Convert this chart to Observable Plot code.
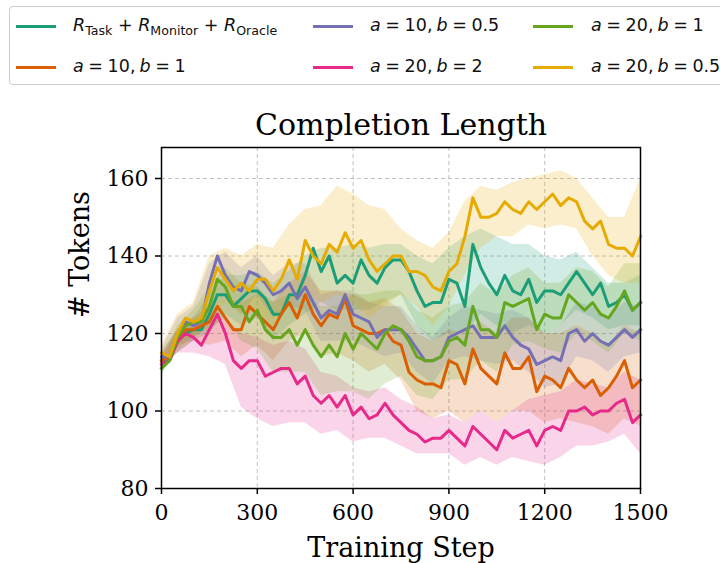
<!DOCTYPE html>
<html>
<head>
<meta charset="utf-8">
<script src="https://cdn.jsdelivr.net/npm/d3@7"></script>
<script src="https://cdn.jsdelivr.net/npm/@observablehq/plot@0.6"></script>
<style>
  body { margin: 0; background: white; }
  #wrap { position: relative; width: 720px; height: 563px; overflow: hidden; background: white; }
  #chart { position: absolute; left: 0; top: 0; }
  #legend { position: absolute; left: 9px; top: 6px; width: 730px; height: 79px; border: 1px solid #cccccc; border-radius: 4px; box-sizing: border-box; background: rgba(255,255,255,0.85); }
  .sw { position: absolute; height: 3px; width: 40px; }
  .lt { position: absolute; font-family: "DejaVu Sans", sans-serif; font-size: 17.5px; line-height: 1; white-space: nowrap; color: #111; transform: translateY(-50%); }
  .lt i { font-style: italic; }
  .lt sub { font-size: 0.72em; vertical-align: -0.28em; line-height: 0; }
  .lt .eq { display: inline-block; margin: 0 4.6px; }
  .lt .cm { display: inline-block; margin-right: 4px; }
</style>
</head>
<body>
<div id="wrap">
  <div id="chart"></div>
  <div id="legend"></div>
</div>
<script>
// ---- data ----
const steps = d3.range(0, 1501, 25);       // training steps for the mean lines
const bandSteps = d3.range(0, 1501, 50);   // training steps for the shaded bands
const xTicks = [0, 300, 600, 900, 1200, 1500];
const yTicks = [80, 100, 120, 140, 160];

const seriesLabels = [
  "R_Task + R_Monitor + R_Oracle",
  "a = 10, b = 1",
  "a = 10, b = 0.5",
  "a = 20, b = 2",
  "a = 20, b = 1",
  "a = 20, b = 0.5"
];
const seriesColors = ["#1b9e77", "#d95f02", "#7570b3", "#e7298a", "#66a61e", "#e6ab02"];

const tealMean   = [113,113,118,120,121,121,125,130,130,127,129,131,131,129,125,125,130,130,135,142,136,140,133,135,133,139,135,133,137,139,139,136,131,127,128,128,134,133,127,143,137,133,130,135,131,130,134,128,131,131,130,133,136,133,130,133,127,128,130,126,128];
const orangeMean = [113,114,118,121,121,122,123,127,124,121,121,127,125,123,121,125,128,124,130,125,122,125,124,129,122,121,120,120,121,118,117,110,108,107,107,106,113,112,107,116,111,109,107,115,111,111,114,105,109,108,106,111,108,106,108,104,106,109,113,106,108];
const purpleMean = [114,114,120,123,122,123,133,140,135,132,131,136,135,133,130,131,133,129,132,128,124,126,125,130,125,124,123,119,121,121,121,119,116,113,113,114,119,120,121,122,119,119,119,122,119,117,116,112,113,114,113,120,121,118,120,118,117,119,121,119,121];
const pinkMean   = [112,113,118,120,119,117,121,125,120,113,111,113,113,109,110,111,111,107,109,104,102,104,101,104,99,101,98,99,102,99,97,95,94,92,93,93,95,93,91,96,94,92,90,95,93,94,95,91,95,96,95,100,100,101,99,100,100,102,103,97,99];
const greenMean  = [111,113,119,122,123,123,127,134,132,127,127,123,126,121,119,119,121,117,121,117,114,117,114,120,116,120,118,116,120,122,121,118,114,113,113,114,118,119,117,127,121,121,119,128,127,128,129,121,125,124,124,130,128,126,128,125,124,127,131,126,128];
const yellowMean = [115,114,120,124,123,124,131,137,134,131,133,131,134,134,131,134,139,134,144,140,138,143,141,146,142,144,139,136,138,140,140,136,136,135,132,131,136,138,145,155,150,150,151,154,152,151,154,152,154,156,153,155,154,149,147,149,143,142,142,140,145];

const tealHi   = [115,121,124,130,135,135,136,133,136,140,142,142,143,142,143,143,140,138,142,145,147,145,143,143,140,139,141,137,133,133,135];
const tealLo   = [111,115,118,120,125,122,124,118,122,125,128,126,126,126,128,130,122,118,120,120,125,122,120,122,120,122,126,124,121,122,122];
const orangeHi = [115,121,124,127,129,128,130,128,133,136,131,131,130,128,129,126,120,118,121,120,123,120,124,124,120,120,122,120,117,122,120];
const orangeLo = [111,115,118,117,118,114,117,113,118,120,114,115,113,110,112,108,100,98,100,97,100,97,100,100,97,98,97,96,94,98,96];
const purpleHi = [116,124,127,138,141,137,140,135,138,138,130,131,131,128,127,127,122,119,124,127,126,125,126,124,120,122,128,127,124,128,127];
const purpleLo = [112,117,118,127,129,125,130,124,127,126,118,118,118,116,114,115,110,107,113,114,113,112,113,110,106,107,114,113,110,114,115];
const pinkHi   = [114,120,122,124,124,120,119,117,118,116,110,109,106,105,106,103,101,98,99,97,100,97,100,103,104,105,108,107,106,110,108];
const pinkLo   = [110,115,115,114,112,101,98,96,97,97,94,95,92,93,93,91,89,89,89,86,88,86,88,87,86,88,91,91,92,94,89];
const greenHi  = [113,122,126,132,137,133,132,128,130,130,127,127,130,130,131,131,126,124,127,128,133,130,135,137,133,133,137,136,132,138,138];
const greenLo  = [109,116,119,121,124,118,116,110,110,110,104,105,105,103,107,109,104,103,108,108,113,110,117,118,116,115,120,118,115,120,118];
const yellowHi = [117,125,128,140,142,140,143,142,148,152,153,158,156,153,152,147,144,142,146,154,158,157,159,160,161,162,160,155,150,150,160];
const yellowLo = [113,116,119,122,128,125,126,122,128,130,128,130,128,124,127,130,127,122,127,135,142,145,145,148,147,148,147,140,135,133,133];

const means = [tealMean, orangeMean, purpleMean, pinkMean, greenMean, yellowMean];
const his = [tealHi, orangeHi, purpleHi, pinkHi, greenHi, yellowHi];
const los = [tealLo, orangeLo, purpleLo, pinkLo, greenLo, yellowLo];

// ---- tables ----
const lineRows = means.flatMap((vals, s) => vals.map((v, i) => ({step: steps[i], value: v, s, color: seriesColors[s]})));
const bandRows = his.flatMap((vals, s) => vals.map((v, i) => ({step: bandSteps[i], hi: v, lo: los[s][i], s, color: seriesColors[s]})));

const serif = "DejaVu Serif, serif";
const gridStyle = {stroke: "#b0b0b0", strokeOpacity: 1, strokeWidth: 0.8, strokeDasharray: "4,3"};

const chart = Plot.plot({
  width: 720,
  height: 563,
  marginLeft: 161,
  marginRight: 80,
  marginTop: 147,
  marginBottom: 75,
  x: {domain: [0, 1500]},
  y: {domain: [80, 168]},
  color: {type: "identity"},
  style: {background: "transparent", fontFamily: serif, color: "black"},
  marks: [
    Plot.gridX(xTicks, gridStyle),
    Plot.gridY(yTicks, gridStyle),
    Plot.areaY(bandRows, {x: "step", y1: "lo", y2: "hi", z: "s", fill: "color", fillOpacity: 0.2}),
    Plot.line(lineRows, {x: "step", y: "value", z: "s", stroke: "color", strokeWidth: 3, strokeLinejoin: "round", strokeLinecap: "square"}),
    Plot.frame({stroke: "black", strokeWidth: 1.5}),
    Plot.axisX(xTicks, {tickSize: 6, tickPadding: 10, fontSize: 22, fontFamily: serif, label: null, tickFormat: d => String(d), strokeWidth: 1.5}),
    Plot.axisY(yTicks, {tickSize: 6, tickPadding: 7, fontSize: 22, fontFamily: serif, label: null, tickFormat: d => String(d), strokeWidth: 1.5}),
    Plot.text(["Completion Length"], {frameAnchor: "top", lineAnchor: "middle", dy: -22, fontSize: 30, fontFamily: serif, fill: "black"}),
    Plot.text(["Training Step"], {frameAnchor: "bottom", lineAnchor: "middle", dy: 60, fontSize: 27, fontFamily: serif, fill: "black"}),
    Plot.text(["# Tokens"], {frameAnchor: "left", dx: -81, rotate: -90, fontSize: 27, fontFamily: serif, fill: "black"})
  ]
});
document.getElementById("chart").appendChild(chart);

// ---- legend ----
const eq = '<span class="eq">=</span>';
const cm = '<span class="cm">,</span>';
const legendHtml = [
  '<i>R</i><sub>Task</sub> + <i>R</i><sub>Monitor</sub> + <i>R</i><sub>Oracle</sub>',
  '<i>a</i>' + eq + '10' + cm + '<i>b</i>' + eq + '1',
  '<i>a</i>' + eq + '10' + cm + '<i>b</i>' + eq + '0.5',
  '<i>a</i>' + eq + '20' + cm + '<i>b</i>' + eq + '2',
  '<i>a</i>' + eq + '20' + cm + '<i>b</i>' + eq + '1',
  '<i>a</i>' + eq + '20' + cm + '<i>b</i>' + eq + '0.5'
];
const colX = [16, 313, 533];
const textX = [73, 370, 591];
const rowY = [26, 67];
const wrap = document.getElementById("wrap");
seriesLabels.forEach((label, s) => {
  const col = Math.floor(s / 2), row = s % 2;
  const sw = document.createElement("div");
  sw.className = "sw";
  sw.style.left = colX[col] + "px";
  sw.style.top = (rowY[row] - 1.5) + "px";
  sw.style.background = seriesColors[s];
  wrap.appendChild(sw);
  const t = document.createElement("div");
  t.className = "lt";
  t.style.left = textX[col] + "px";
  t.style.top = rowY[row] + "px";
  t.innerHTML = legendHtml[s];
  t.title = label;
  wrap.appendChild(t);
});
</script>
</body>
</html>
